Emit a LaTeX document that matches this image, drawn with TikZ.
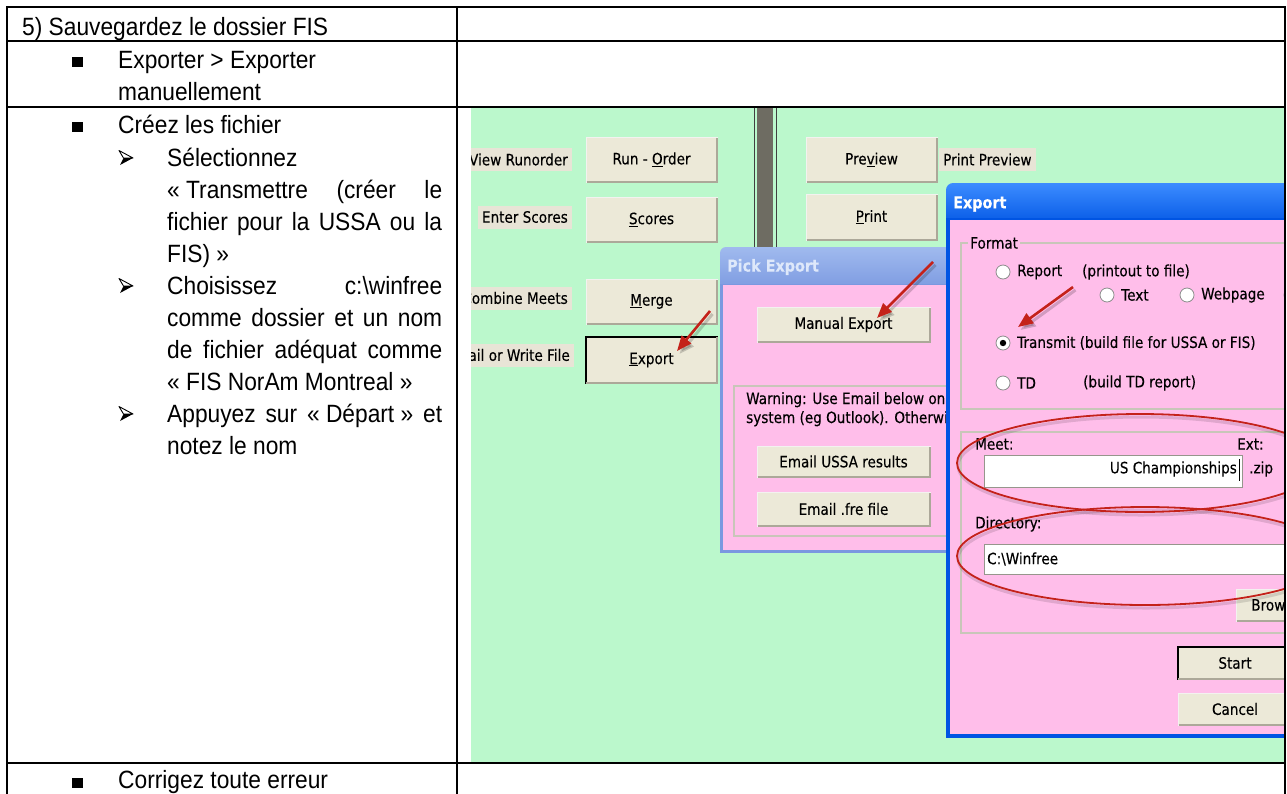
\documentclass[tikz,border=0pt]{standalone}
\usepackage{fontspec}
\setmainfont{Liberation Sans}[FakeStretch=0.91]
\newfontfamily\uifont{DejaVu Sans}[FakeStretch=0.87,FakeBold=0.25]
\usetikzlibrary{arrows.meta}
\definecolor{scrgreen}{RGB}{187,248,204}
\definecolor{btnface}{RGB}{236,233,216}
\definecolor{btnshade}{RGB}{172,168,153}
\definecolor{lblface}{RGB}{232,228,214}
\definecolor{dlgpink}{RGB}{255,190,234}
\definecolor{divgray}{RGB}{110,108,98}
\definecolor{inactblue}{RGB}{122,152,224}
\definecolor{inacttop}{RGB}{160,186,238}
\definecolor{inacttext}{RGB}{222,232,250}
\definecolor{actblue}{RGB}{0,84,227}
\definecolor{actbluetop}{RGB}{60,140,255}
\definecolor{grpline}{RGB}{200,198,185}
\definecolor{markred}{RGB}{196,34,26}
\definecolor{tbborder}{RGB}{150,150,140}
\tikzset{
  tline/.style={line width=1.9pt, black, line cap=rect},
  body/.style={anchor=base west, inner sep=0pt, font=\fontsize{25}{32}\selectfont},
  sqb/.style={fill=black, minimum width=11pt, minimum height=10pt, inner sep=0pt, anchor=south west},
  arrowbullet/.pic={
    \draw[black, line width=0.9pt, fill=white, line join=round] (-7,-7.5) -- (7,0) -- (-2.5,0) -- cycle;
    \fill[black] (-2.5,0) -- (7,0) -- (-6,7) -- cycle;
  },
  ui/.style={inner sep=0pt, font=\uifont\fontsize{15.6}{18}\selectfont},
  uib/.style={inner sep=0pt, font=\uifont\bfseries\fontsize{16.5}{18}\selectfont},
  lbl/.style={ui, fill=lblface, inner xsep=4pt, minimum height=23pt},
  btn/.style={ui, fill=btnface, draw=white!85!btnshade, line width=1pt},
  defbtn/.style={ui, fill=btnface, draw=black, line width=1.4pt},
  radio/.style={circle, minimum size=14pt, inner sep=0pt, fill=white, draw=black!45, line width=0.8pt},
  tbox/.style={fill=white, draw=tbborder, line width=1.2pt},
  grp/.style={draw=grpline, line width=1.2pt},
  redarrow/.style={markred, line width=2.6pt, -{Triangle[length=15pt,width=12pt]}},
  arrowshadow/.style={black, opacity=0.18, line width=3pt, -{Triangle[length=15pt,width=12pt]}},
  redring/.style={markred, line width=1.8pt},
}
\newcommand\uibtn[7][btn]{%
  \node[#1, minimum width=#5, minimum height=#6] (#2) at (#3,#4) {#7};
  \draw[btnshade, line width=1.6pt] ([xshift=1pt,yshift=0.8pt]#2.south west) -- ([xshift=-0.8pt,yshift=0.8pt]#2.south east) -- ([xshift=-0.8pt,yshift=-1pt]#2.north east);
}
\begin{document}
\begin{tikzpicture}[x=1pt,y=-1pt]
\useasboundingbox (0,0) rectangle (1287,793);
\fill[white] (0,0) rectangle (1287,793);

% ---------------- screenshot ----------------
\begin{scope}
\clip (471,108) rectangle (1284,763);
\fill[scrgreen] (471,108) rectangle (1284,763);

% labels
\node[lbl, anchor=east] (lview) at (572,159.5) {View Runorder};
\node[lbl, anchor=east] (lenter) at (572,217) {Enter Scores};
\node[lbl, anchor=east] (lcomb) at (572,298) {Combine Meets};
\node[lbl, anchor=east] (lmail) at (574,355) {Mail or Write File};
\node[lbl, anchor=west] (lprint) at (939,159.5) {Print Preview};

% divider
\fill[divgray] (757,108) rectangle (773,255);
\draw[black!75, line width=1pt] (754.5,108) -- (754.5,255);
\draw[black!75, line width=1pt] (776.5,108) -- (776.5,255);

% main buttons
\uibtn{brun}{651.5}{159.5}{131}{45}{Run - \underline{O}rder}
\uibtn{bscores}{651.5}{219.5}{131}{45}{\underline{S}cores}
\uibtn{bmerge}{651.5}{301.5}{131}{45}{\underline{M}erge}
\uibtn[defbtn]{bexport}{651.5}{360}{131}{46}{\underline{E}xport}
\uibtn{bpreview}{871.5}{159.5}{131}{45}{Pre\underline{v}iew}
\uibtn{bprint}{871.5}{217}{131}{46}{\underline{P}rint}

% Pick Export dialog
\shade[top color=inacttop, bottom color=inactblue, rounded corners=6pt] (720,247) rectangle (962,292);
\fill[inactblue] (720,284) rectangle (962,553);
\fill[dlgpink] (723,285) rectangle (962,550);
\node[uib, anchor=west, text=inacttext] (tpick) at (727,267) {Pick Export};
\uibtn{bmanual}{843.5}{324.5}{173}{35}{Manual Export}
\draw[grp] (734,386) rectangle (975,536);
\node[ui, anchor=base west] (warn1) at (746,404) {Warning: Use Email below only};
\node[ui, anchor=base west] (warn2) at (746,423) {system (eg Outlook). Otherwise};
\uibtn{bussa}{843.5}{461.5}{173}{31}{Email USSA results}
\uibtn{bfre}{843.5}{509}{173}{34}{Email .fre file}

% Export dialog
\shade[top color=actbluetop, bottom color=actblue, rounded corners=7pt] (946,183) rectangle (1310,228);
\fill[actblue] (946,218) rectangle (1310,738);
\fill[dlgpink] (950,220) rectangle (1310,734);
\node[uib, anchor=west, text=white] (texport) at (953,204) {Export};

% Format group
\draw[grp] (961,243) rectangle (1310,409);
\node[ui, anchor=west, fill=dlgpink, inner xsep=2pt] (gformat) at (968,243) {Format};
\node[radio] (rreport) at (1003,272) {};
\node[ui, anchor=west] (treport) at (1017,272) {Report};
\node[ui, anchor=west] (tprint) at (1082,272) {(printout to file)};
\node[radio] (rtext) at (1107,295) {};
\node[ui, anchor=west] (ttext) at (1121,295) {Text};
\node[radio] (rweb) at (1187,295) {};
\node[ui, anchor=west] (tweb) at (1201,295) {Webpage};
\node[radio] (rother) at (1291,295) {};
\node[radio] (rtrans) at (1003,343) {};
\fill[black] (rtrans.center) circle (3.2pt);
\node[ui, anchor=west] (ttrans) at (1017,343) {Transmit (build file for USSA or FIS)};
\node[radio] (rtd) at (1003,383) {};
\node[ui, anchor=west] (ttd) at (1017,383) {TD};
\node[ui, anchor=west] (ttdr) at (1083,383) {(build TD report)};

% Meet / Directory group
\draw[grp] (961,432) rectangle (1310,633);
\node[ui, anchor=west] (tmeet) at (975,444) {Meet:};
\node[ui, anchor=west] (text) at (1237,444) {Ext:};
\node[tbox, minimum width=258pt, minimum height=32pt, anchor=north west] (boxmeet) at (984,455) {};
\node[ui, anchor=east] (tmeetval) at (1237,469) {US Championships};
\draw[black, line width=1pt] (1239.5,459) -- (1239.5,481);
\node[ui, anchor=west] (tzip) at (1249,469) {.zip};
\node[ui, anchor=west] (tdir) at (975,524) {Directory:};
\node[tbox, minimum width=330pt, minimum height=30pt, anchor=north west] (boxdir) at (984,544) {};
\node[ui, anchor=west] (tdirval) at (987,559) {C:\textbackslash Winfree};
\uibtn{bbrowse}{1276}{605}{80}{32}{Browse}
\uibtn[defbtn]{bstart}{1235}{663}{114}{32}{Start}
\uibtn{bcancel}{1235}{709}{114}{32}{Cancel}

% red marks
\coordinate (a1s) at (710,311); \coordinate (a1e) at (677,351);
\coordinate (a2s) at (933,262); \coordinate (a2e) at (877,318);
\coordinate (a3s) at (1073,287); \coordinate (a3e) at (1018,327);
\draw[arrowshadow, transform canvas={shift={(2.5pt,-3pt)}}] (a1s) -- (a1e);
\draw[arrowshadow, transform canvas={shift={(2.5pt,-3pt)}}] (a2s) -- (a2e);
\draw[arrowshadow, transform canvas={shift={(2.5pt,-3pt)}}] (a3s) -- (a3e);
\draw[redarrow] (a1s) -- (a1e);
\draw[redarrow] (a2s) -- (a2e);
\draw[redarrow] (a3s) -- (a3e);
\draw[black, opacity=0.12, line width=3pt] (1141,466) ellipse [x radius=183pt, y radius=49pt];
\draw[black, opacity=0.12, line width=3pt] (1146,559) ellipse [x radius=188pt, y radius=49pt];
\draw[redring] (1140,463) ellipse [x radius=183pt, y radius=49pt];
\draw[redring] (1145,556) ellipse [x radius=188pt, y radius=49pt];
\end{scope}

% ---------------- table text ----------------
\node[body] (t0) at (22,35) {5) Sauvegardez le dossier FIS};
\node[sqb] (b1) at (72,67) {};
\node[body] (t1a) at (118,68) {Exporter > Exporter};
\node[body] (t1b) at (118,100) {manuellement};
\node[sqb] (b2) at (72,132) {};
\node[body] (t2) at (118,133) {Créez les fichier};
\pic at (126,158) {arrowbullet};
\node[body] (l1) at (167,166) {Sélectionnez};
\node[body] (l2) at (167,198) {\makebox[275pt][s]{\mbox{« Transmettre} (créer le}};
\node[body] (l3) at (167,230) {\makebox[275pt][s]{fichier pour la USSA ou la}};
\node[body] (l4) at (167,262) {FIS)~»};
\pic at (126,286) {arrowbullet};
\node[body] (l5) at (167,294) {\makebox[275pt][s]{Choisissez c:\textbackslash winfree}};
\node[body] (l6) at (167,326) {\makebox[275pt][s]{comme dossier et un nom}};
\node[body] (l7) at (167,358) {\makebox[275pt][s]{de fichier adéquat comme}};
\node[body] (l8) at (167,390) {« FIS NorAm Montreal »};
\pic at (126,414) {arrowbullet};
\node[body] (l9) at (167,422) {\makebox[275pt][s]{Appuyez sur \mbox{« Départ »} et}};
\node[body] (l10) at (167,454) {notez le nom};
\node[sqb] (b3) at (72,788) {};
\node[body] (t3) at (118,788) {Corrigez toute erreur};

% ---------------- table lines ----------------
\draw[tline] (7,7) -- (1285,7);
\draw[tline] (7,41) -- (1285,41);
\draw[tline] (7,107) -- (1285,107);
\draw[tline] (7,763) -- (1285,763);
\draw[tline] (7,7) -- (7,800);
\draw[tline] (457,7) -- (457,800);
\draw[tline] (1285,7) -- (1285,800);
\end{tikzpicture}
\end{document}
